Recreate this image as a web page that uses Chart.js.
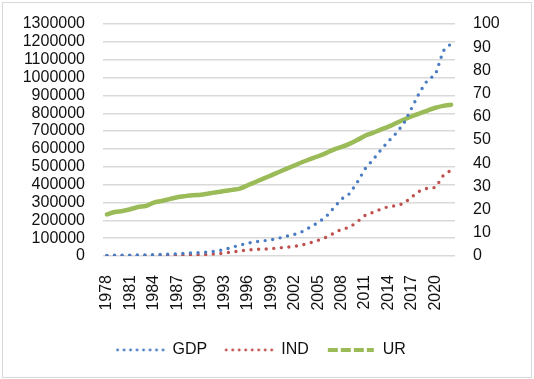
<!DOCTYPE html>
<html>
<head>
<meta charset="utf-8">
<script src="https://cdn.jsdelivr.net/npm/chart.js@4"></script>
<style>
  html, body { margin: 0; padding: 0; background: #fff; }
  #wrap { position: relative; width: 534px; height: 379px; }
  #frame { position: absolute; left: 2px; top: 2px; width: 528px; height: 374px; border: 1px solid #d9d9d9; pointer-events: none; }
</style>
</head>
<body>
<div id="wrap">
  <canvas id="chart" width="534" height="379"></canvas>
  <div id="frame"></div>
</div>
<script>
// ── data (China, 1978–2022) ──
const years = [];
for (let y = 1978; y <= 2022; y++) years.push(String(y));

const gdp = [3679, 4101, 4588, 4936, 5373, 6021, 7279, 9099, 10376, 12175,
  15180, 17180, 18873, 22006, 27195, 35673, 48638, 61340, 71814, 79715,
  85196, 90564, 100280, 110863, 121717, 137422, 161840, 187319, 219439, 270092,
  319245, 348518, 412119, 487940, 538580, 592963, 643563, 688858, 746395, 832036,
  919281, 986515, 1015986, 1150000, 1190000];

const ind = [1755, 1914, 2192, 2256, 2383, 2646, 3106, 3867, 4515, 5252,
  6587, 7278, 7717, 9102, 11700, 16454, 22372, 28538, 33613, 37223,
  38620, 41034, 45664, 49660, 54105, 62436, 74286, 88082, 104362, 127044,
  149956, 160168, 191626, 227035, 244639, 261951, 277282, 281339, 295427, 331580,
  364835, 380671, 383562, 450904, 481000];

const ur = [17.92, 18.96, 19.39, 20.16, 21.13, 21.62, 23.01, 23.71, 24.52, 25.32,
  25.81, 26.21, 26.41, 26.94, 27.46, 27.99, 28.51, 29.04, 30.48, 31.91,
  33.35, 34.78, 36.22, 37.66, 39.09, 40.53, 41.76, 42.99, 44.34, 45.89,
  46.99, 48.34, 49.95, 51.83, 53.10, 54.49, 55.75, 57.33, 58.84, 60.24,
  61.50, 62.71, 63.89, 64.72, 65.22];

const seriesNames = ['GDP', 'IND', 'UR'];
const seriesColors = ['#4a7cc4', '#c0504d', '#9bbb59'];

// small pre-rendered legend swatches (dotted / dotted / dashed)
function swatch(color, dash, width) {
  const c = document.createElement('canvas');
  c.width = 50; c.height = 6;
  const g = c.getContext('2d');
  g.strokeStyle = color;
  g.lineWidth = width;
  g.lineCap = dash[0] === 0 ? 'round' : 'butt';
  g.setLineDash(dash);
  g.beginPath();
  g.moveTo(2, 3); g.lineTo(48, 3);
  g.stroke();
  return c;
}
const swatches = [
  swatch(seriesColors[0], [0, 6.5], 2.8),
  swatch(seriesColors[1], [0, 6.5], 2.8),
  swatch(seriesColors[2], [10, 3], 4),
];

const font = { family: "'Liberation Sans', Arial, sans-serif", size: 16 };
const textColor = '#111';

// keep the axes' own label overhang from pushing the plot area around
const noOverhang = (scale) => {
  scale.paddingTop = 0; scale.paddingBottom = 0;
  scale.paddingLeft = 0; scale.paddingRight = 0;
};

new Chart(document.getElementById('chart').getContext('2d'), {
  type: 'line',
  data: {
    labels: years,
    datasets: [
      {
        label: seriesNames[0], data: gdp, yAxisID: 'y',
        borderColor: seriesColors[0], borderWidth: 3.4,
        borderDash: [0, 7.6], borderCapStyle: 'round',
        pointRadius: 0, tension: 0, fill: false,
      },
      {
        label: seriesNames[1], data: ind, yAxisID: 'y',
        borderColor: seriesColors[1], borderWidth: 3.4,
        borderDash: [0, 7.6], borderCapStyle: 'round',
        pointRadius: 0, tension: 0, fill: false,
      },
      {
        label: seriesNames[2], data: ur, yAxisID: 'y1',
        borderColor: seriesColors[2], borderWidth: 4.5,
        borderCapStyle: 'round', borderJoinStyle: 'round',
        pointRadius: 0, tension: 0.3, fill: false,
      },
    ],
  },
  options: {
    responsive: false,
    animation: false,
    layout: { padding: { left: 4.7, right: 16.3, top: 24, bottom: 11 } },
    plugins: {
      tooltip: { enabled: false },
      legend: {
        position: 'bottom',
        labels: {
          color: textColor,
          font,
          usePointStyle: true,
          pointStyleWidth: 48,
          padding: 18,
          generateLabels: (chart) => chart.data.datasets.map((ds, i) => ({
            text: ds.label,
            fontColor: textColor,
            pointStyle: swatches[i],
            datasetIndex: i,
            hidden: false,
            lineWidth: 0,
          })),
        },
      },
    },
    scales: {
      x: {
        offset: true,
        grid: { display: false, drawTicks: false },
        border: { display: false },
        afterFit: (scale) => { noOverhang(scale); scale.height = 68; },
        ticks: {
          color: textColor,
          font,
          autoSkip: false,
          minRotation: 90,
          maxRotation: 90,
          padding: 19,
          callback: (v, i) => (i % 3 === 0 ? years[i] : ''),
        },
      },
      y: {
        position: 'left',
        min: 0, max: 1300000,
        grid: { color: '#d9d9d9', lineWidth: 1.4, drawTicks: false },
        border: { display: false },
        afterFit: noOverhang,
        ticks: {
          color: textColor, font, stepSize: 100000, padding: 18,
          autoSkip: false, callback: (v) => String(v),
        },
      },
      y1: {
        position: 'right',
        min: 0, max: 100,
        grid: { display: false, drawTicks: false },
        border: { display: false },
        afterFit: noOverhang,
        ticks: {
          color: textColor, font, stepSize: 10, padding: 18,
          autoSkip: false, callback: (v) => String(v),
        },
      },
    },
  },
});
</script>
</body>
</html>
